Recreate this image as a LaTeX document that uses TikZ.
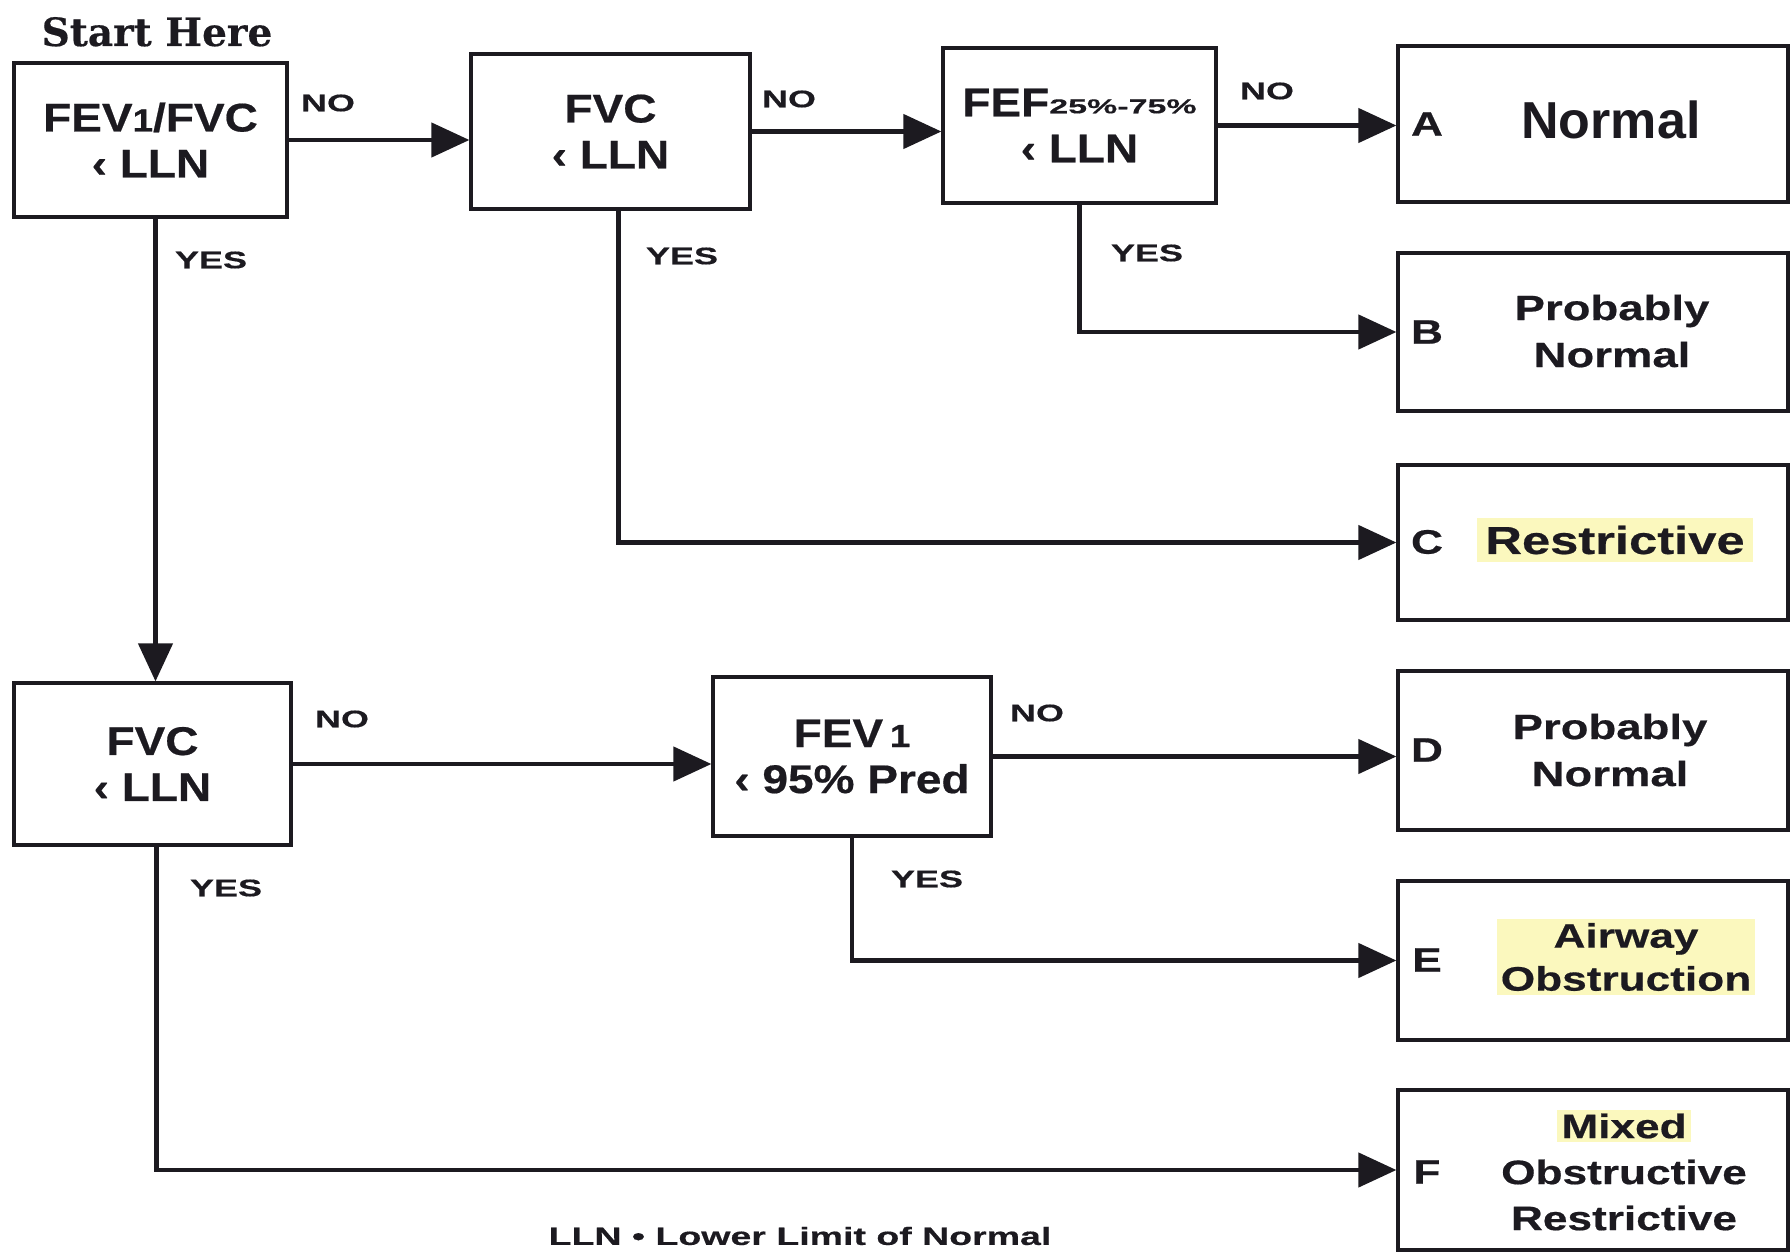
\documentclass[tikz,border=0pt]{standalone}
\usepackage{fontspec}
\setmainfont{Liberation Sans}
\newfontfamily\cnd[FakeStretch=1.15, BoldFeatures={FakeBold=0.5}]{Liberation Sans}
\newfontfamily\ext[FakeStretch=1.3, BoldFeatures={FakeBold=0.5}]{Liberation Sans}
\newfontfamily\wid[FakeStretch=1.5, BoldFeatures={FakeBold=0.4}]{Liberation Sans}
\newfontfamily\subf[FakeStretch=1.7, BoldFeatures={FakeBold=0.4}]{Liberation Sans}
\newfontfamily\srf[BoldFeatures={FakeBold=0.4}]{DejaVu Serif}
\usetikzlibrary{arrows.meta}
\definecolor{ink}{RGB}{28,26,32}
\definecolor{hl}{RGB}{251,248,190}
\newcommand{\smallone}{{\fontsize{16}{16}\selectfont 1}}
\tikzset{
 cbox/.style={draw=ink, line width=1.6pt, fill=white, align=center, text=ink, inner sep=0pt, font=\cnd\bfseries\fontsize{20}{23}\selectfont},
 obox/.style={draw=ink, line width=1.6pt, minimum width=195pt, inner sep=0pt},
 letter/.style={text=ink, inner sep=0pt, font=\ext\bfseries\fontsize{17}{17}\selectfont},
 otext/.style={text=ink, align=center, inner sep=2pt, font=\ext\bfseries\fontsize{17.5}{23.5}\selectfont},
 lbl/.style={text=ink, inner sep=0pt, font=\wid\bfseries\fontsize{12}{12}\selectfont},
 arr/.style={draw=ink, line width=2.2pt, -{Triangle[length=19pt,width=17pt]}},
}
\begin{document}
\begin{tikzpicture}[x=0.5pt,y=-0.5pt]
\useasboundingbox (0,0) rectangle (1790,1252);
\node[text=ink, font=\srf\bfseries\fontsize{19.5}{19.5}\selectfont, anchor=base, inner sep=0pt] (start) at (157,46) {Start Here};
% decision boxes
\node[cbox, minimum width=136.5pt, minimum height=77pt] (b1) at (150.5,140) {FEV\smallone/FVC\\‹ LLN};
\node[cbox, minimum width=139.5pt, minimum height=77.5pt] (b2) at (610.5,131.5) {FVC\\‹ LLN};
\node[cbox, minimum width=136.5pt, minimum height=77.5pt] (b3) at (1079.5,125.5) {FEF\raisebox{1.5pt}{\subf\bfseries\fontsize{10}{10}\selectfont 25\%-75\%}\\‹ LLN};
\node[cbox, minimum width=138.5pt, minimum height=81pt] (b4) at (152.5,764) {FVC\\‹ LLN};
\node[cbox, minimum width=139pt, minimum height=79.5pt] (b5) at (852,756.5) {FEV\,\smallone\\‹ 95\% Pred};
% outcome boxes
\node[obox, minimum height=78pt] (A) at (1593,124) {};
\node[obox, minimum height=79pt] (B) at (1593,332) {};
\node[obox, minimum height=77.5pt] (C) at (1593,542.5) {};
\node[obox, minimum height=79.5pt] (D) at (1593,750.5) {};
\node[obox, minimum height=79.5pt] (E) at (1593,960.5) {};
\node[obox, minimum height=80pt] (F) at (1593,1170) {};
\node[letter] (lA) at (1427,124) {A};
\node[letter] (lB) at (1427,332) {B};
\node[letter] (lC) at (1427,542) {C};
\node[letter] (lD) at (1427,750) {D};
\node[letter] (lE) at (1427,960) {E};
\node[letter] (lF) at (1427,1172) {F};
\node[text=ink, inner sep=0pt, font=\bfseries\fontsize{26}{26}\selectfont] (tA) at (1611,120) {Normal};
\node[otext] (tB) at (1612,331) {Probably\\Normal};
\node[otext, fill=hl, inner sep=4pt, font=\ext\bfseries\fontsize{19.5}{20}\selectfont] (tC) at (1615,540) {Restrictive};
\node[otext] (tD) at (1610,750) {Probably\\Normal};
\node[otext, fill=hl, font=\ext\bfseries\fontsize{17}{21.5}\selectfont] (tE) at (1626,957) {Airway\\Obstruction};
\node[otext, font=\ext\bfseries\fontsize{17}{23}\selectfont] (tF) at (1624,1170) {\setlength{\fboxsep}{2pt}\colorbox{hl}{Mixed}\\Obstructive\\Restrictive};
% connectors
\draw[arr] (b1.east) -- (b1.east -| b2.west);
\draw[arr] (b2.east) -- (b2.east -| b3.west);
\draw[arr] (b3.east) -- (b3.east -| A.west);
\draw[arr] (b3.south) |- (B.west);
\draw[arr] ([xshift=4pt]b2.south) |- (C.west);
\draw[arr] ([xshift=2.5pt]b1.south) -- ([xshift=2.5pt]b1.south |- b4.north);
\draw[arr] (b4.east) -- (b4.east -| b5.west);
\draw[arr] (b5.east) -- (b5.east -| D.west);
\draw[arr] (b5.south) |- (E.west);
\draw[arr] ([xshift=2pt]b4.south) |- (F.west);
% labels
\node[lbl] (no1) at (328,103) {NO};
\node[lbl] (no2) at (789,99) {NO};
\node[lbl] (no3) at (1267,91) {NO};
\node[lbl] (yes1) at (211,260) {YES};
\node[lbl] (yes2) at (682,256) {YES};
\node[lbl] (yes3) at (1147,253) {YES};
\node[lbl] (no4) at (342,719) {NO};
\node[lbl] (no5) at (1037,713) {NO};
\node[lbl] (yes4) at (226,888) {YES};
\node[lbl] (yes5) at (927,879) {YES};
\node[lbl, font=\wid\bfseries\fontsize{12.5}{12.5}\selectfont] (note) at (800,1236) {LLN • Lower Limit of Normal};
\end{tikzpicture}
\end{document}
